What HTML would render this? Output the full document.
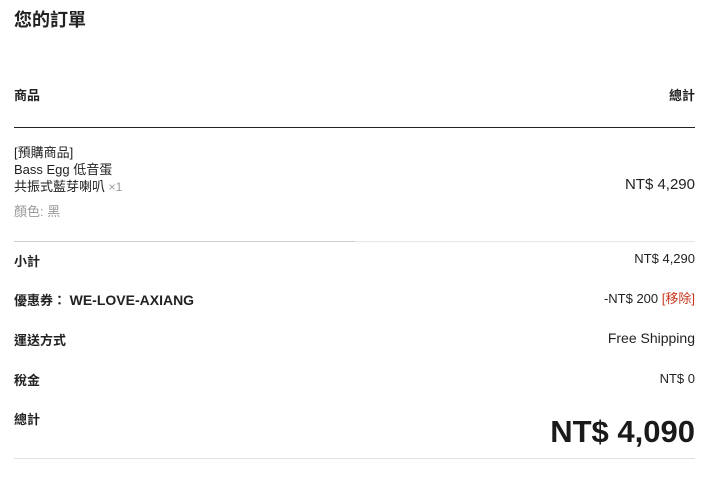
<!DOCTYPE html>
<html><head><meta charset="utf-8"><style>
body{margin:0;width:720px;height:484px;background:#fff;position:relative;overflow:hidden;font-family:"Liberation Sans","Noto Sans CJK TC",sans-serif;color:#222}
.a{position:absolute;white-space:nowrap;line-height:1}
.r{right:25px;text-align:right}
.b{font-weight:bold}
</style></head><body>
<div class="a b" style="left:14px;top:11px;font-size:18px">您的訂單</div>
<div class="a b" style="left:14px;top:89px;font-size:13px">商品</div>
<div class="a b r" style="top:89px;font-size:13px">總計</div>
<div class="a" style="left:14px;top:127px;width:681px;height:1px;background:#222"></div>
<div class="a" style="left:14px;top:144px;font-size:13px;line-height:17px">[預購商品]<br>Bass Egg 低音蛋<br>共振式藍芽喇叭 <span style="color:#999;font-size:12px">×1</span></div>
<div class="a" style="left:14px;top:205px;font-size:13px;color:#999">顏色: 黑</div>
<div class="a r" style="top:177px;font-size:15px">NT$ 4,290</div>
<div class="a" style="left:14px;top:241px;width:681px;height:1px;background:#e6e6e6"></div>
<div class="a" style="left:14px;top:241px;width:341px;height:1px;background:#d0d0d0"></div>
<div class="a b" style="left:14px;top:255px;font-size:13px">小計</div>
<div class="a r" style="top:252px;font-size:13px">NT$ 4,290</div>
<div class="a b" style="left:14px;top:293px;font-size:13px">優惠券： <span style="font-size:14px">WE-LOVE-AXIANG</span></div>
<div class="a r" style="top:292px;font-size:13px">-NT$ 200 <span style="color:#c8381e">[移除]</span></div>
<div class="a b" style="left:14px;top:334px;font-size:13px">運送方式</div>
<div class="a r" style="top:331px;font-size:14px">Free Shipping</div>
<div class="a b" style="left:14px;top:374px;font-size:13px">稅金</div>
<div class="a r" style="top:372px;font-size:13px">NT$ 0</div>
<div class="a b" style="left:14px;top:413px;font-size:13px">總計</div>
<div class="a b r" style="top:416px;font-size:31px;color:#1a1a1a">NT$ 4,090</div>
<div class="a" style="left:14px;top:458px;width:681px;height:1px;background:#e0e0e0"></div>
</body></html>
